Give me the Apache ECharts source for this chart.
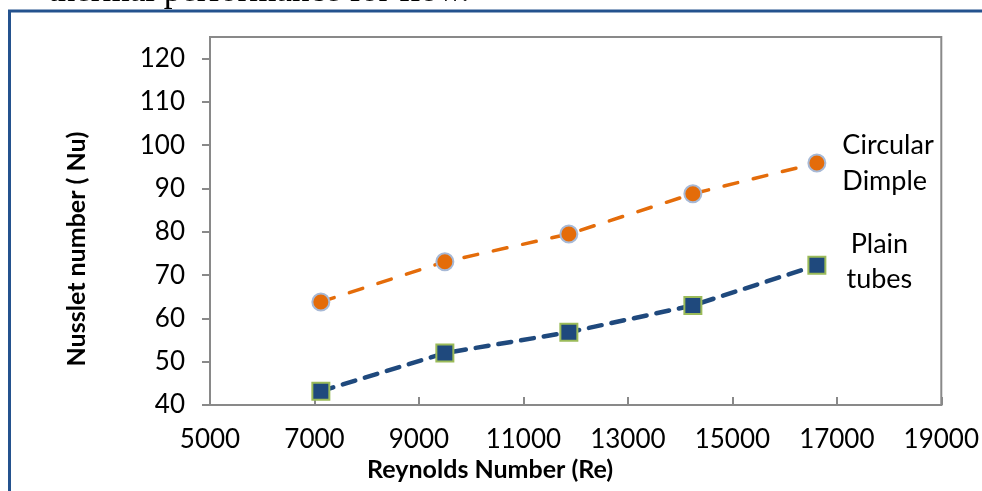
<!DOCTYPE html>
<html>
<head>
<meta charset="utf-8">
<style>
  html, body { margin: 0; padding: 0; background: #ffffff; }
  #chart { width: 982px; height: 491px; }
</style>
<script src="https://cdn.jsdelivr.net/npm/echarts@6/dist/echarts.min.js"></script>
</head>
<body>
<div id="chart"></div>
<script>
// Reynolds number of each test run
const reynolds = [7122, 9496, 11870, 14244, 16618];
// Nusselt number measured for each tube type
const nuCircularDimple = [63.8, 73.1, 79.5, 88.8, 95.9];
const nuPlainTubes = [43.2, 52.0, 56.8, 63.0, 72.3];
// Axis tick values
const xTicks = [5000, 7000, 9000, 11000, 13000, 15000, 17000, 19000];
const yTicks = [40, 50, 60, 70, 80, 90, 100, 110, 120];

const seriesNames = ['Circular\nDimple', 'Plain\ntubes'];

const FONT = 'Lato, "Open Sans", sans-serif';
const AXIS_GREY = '#898989';

function pairs(xs, ys) {
  return xs.map((x, i) => [x, ys[i]]);
}

const chart = echarts.init(document.getElementById('chart'), null, { renderer: 'canvas' });

const lastIndex = reynolds.length - 1;

chart.setOption({
  backgroundColor: '#ffffff',
  animation: false,
  grid: {
    left: 210, right: 37, top: 37, bottom: 86,
    show: true,
    borderColor: AXIS_GREY,
    borderWidth: 2,
    backgroundColor: 'transparent'
  },
  xAxis: {
    type: 'value',
    min: xTicks[0],
    max: xTicks[xTicks.length - 1],
    interval: 2000,
    axisLine: { show: true, lineStyle: { color: AXIS_GREY, width: 2 } },
    axisTick: { show: true, inside: true, length: 8, lineStyle: { color: AXIS_GREY, width: 2 } },
    axisLabel: { color: '#000', fontFamily: FONT, fontSize: 26, margin: 22,
                 formatter: (v) => String(v) },
    splitLine: { show: false },
    name: 'Reynolds Number (Re)',
    nameLocation: 'middle',
    nameGap: 47,
    nameTextStyle: {
      color: '#000', fontFamily: FONT, fontWeight: 'bold', fontSize: 25,
      padding: [0, 171, 0, 0]
    }
  },
  yAxis: {
    type: 'value',
    min: 40,
    max: 125,
    interval: 10,
    axisLine: { show: true, lineStyle: { color: AXIS_GREY, width: 2 } },
    axisTick: { show: true, inside: false, length: 8, customValues: yTicks,
                lineStyle: { color: AXIS_GREY, width: 2 } },
    axisLabel: { color: '#000', fontFamily: FONT, fontSize: 26, margin: 25, customValues: yTicks },
    splitLine: { show: false },
    name: 'Nusslet number ( Nu)',
    nameLocation: 'middle',
    nameGap: 121,
    nameTextStyle: {
      color: '#000', fontFamily: FONT, fontWeight: 'bold', fontSize: 25,
      padding: [0, 56, 0, 0]
    }
  },
  series: [
    {
      name: seriesNames[0],
      type: 'line',
      data: pairs(reynolds, nuCircularDimple),
      symbol: 'circle',
      symbolSize: 17,
      itemStyle: { color: '#E46C0A', borderColor: '#A7B9D6', borderWidth: 2 },
      lineStyle: { color: '#E46C0A', width: 3.5, type: [14, 16], cap: 'round' },
      z: 3,
      label: {
        show: true,
        position: 'right',
        distance: 16,
        align: 'left',
        color: '#000',
        fontFamily: FONT,
        fontSize: 27,
        lineHeight: 36,
        formatter: (p) => (p.dataIndex === lastIndex ? seriesNames[0] : '')
      }
    },
    {
      name: seriesNames[1],
      type: 'line',
      data: pairs(reynolds, nuPlainTubes),
      symbol: 'rect',
      symbolSize: 17,
      itemStyle: { color: '#1F497D', borderColor: '#9BBB59', borderWidth: 2 },
      lineStyle: { color: '#1F497D', width: 4.5, type: [13, 10], cap: 'round' },
      z: 3,
      label: {
        show: true,
        position: 'right',
        distance: 53,
        align: 'center',
        offset: [0, -3],
        color: '#000',
        fontFamily: FONT,
        fontSize: 27,
        lineHeight: 35,
        formatter: (p) => (p.dataIndex === lastIndex ? seriesNames[1] : '')
      }
    }
  ],
  graphic: [
    // Running text of the page above the figure
    {
      type: 'text',
      left: 48,
      top: -25.5,
      style: {
        text: 'thermal performance for flow.',
        font: '35px "Liberation Serif", "DejaVu Serif", serif',
        fill: '#000'
      },
      silent: true
    },
    // Figure frame (left and top edges)
    {
      type: 'polyline',
      shape: { points: [[9.5, 491], [9.5, 11], [982, 11]] },
      style: { stroke: '#24528E', lineWidth: 3, fill: null },
      silent: true
    }
  ]
});
</script>
</body>
</html>
